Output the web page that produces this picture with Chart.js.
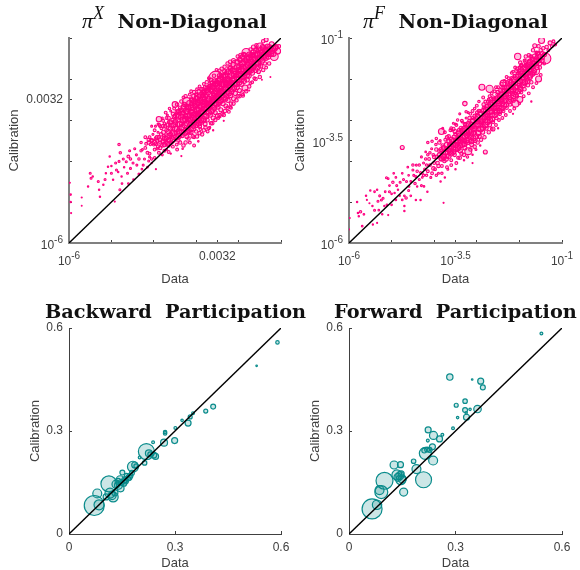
<!DOCTYPE html>
<html>
<head>
<meta charset="utf-8">
<title>Data vs Calibration</title>
<script src="https://cdn.jsdelivr.net/npm/chart.js@4"></script>
<style>
  html, body { margin: 0; padding: 0; background: #fff; }
  #page { position: relative; width: 580px; height: 570px; overflow: hidden; }
  canvas { position: absolute; left: 0; top: 0; }
</style>
</head>
<body>
<div id="page">
  <canvas id="piX" width="580" height="570"></canvas>
  <canvas id="piF" width="580" height="570"></canvas>
  <canvas id="backward" width="580" height="570"></canvas>
  <canvas id="forward" width="580" height="570"></canvas>
</div>
<script>
// tick positions (log10) and their labels
const piXTicks = [-6, -5, -4, -3, -2.5, -2, -1];
const piXTickLabels = ['10^-6', '', '', '', '0.0032', '', ''];
const piFTicks = [-6, -5, -4, -3.5, -3, -2, -1];
const piFTickLabels = ['10^-6', '', '', '10^-3.5', '', '', '10^-1'];
const shareTicks = [0, 0.3, 0.6];
const shareTickLabels = ['0', '0.3', '0.6'];

// [log10 data, log10 calibration, weight]
const piXPoints = [
  [-5.98,-4.53,.3],[-5.96,-4.82,.5],[-5.96,-5,.5],[-5.95,-5.27,.3],[-5.7,-4.89,.3],[-5.7,-5.09,.2],[-5.55,-4.62,.5],[-5.5,-4.3,1],
  [-5.48,-4.42,1],[-5.44,-4.38,.5],[-5.31,-4.5,1],[-5.29,-4.7,.5],[-5.27,-4.87,.5],[-5.19,-4.58,.5],[-5.13,-4.3,.5],[-5.04,-3.89,.5],
  [-5.08,-4.14,.5],[-5,-4.12,.5],[-4.96,-4.46,.5],[-4.88,-4.22,1],[-4.84,-4.27,.5],[-4.92,-4.99,.3],[-4.8,-4.7,1],[-4.82,-3.6,1.5],
  [-4.79,-3.8,1.5],[-4.82,-4.01,1],[-4.76,-4.38,.5],[-4.6,-3.89,2],[-4.57,-3.75,1],[-4.49,-4.05,1],[-4.41,-3.85,1],[-4.7,-4.15,.5],
  [-4.62,-4.3,1],[-4.55,-4.18,1],[-4.48,-4.45,.5],[-4.4,-4.1,1],[-4.35,-4.32,1],[-4.3,-3.55,1.5],[-4.27,-3.72,1],[-4.22,-3.95,1],
  [-4.2,-3.42,2],[-4.15,-4.15,.7],[-4.1,-3.82,2],[-4.08,-3.6,1.5],[-4.05,-3.95,1.5],[-4.02,-3.35,1],[-4,-3.6,2],[-3.96,-3.15,1],
  [-3.95,-3.45,3],[-3.92,-3.7,1.5],[-3.9,-3.3,1],[-3.88,-2.98,7],[-3.85,-3.55,2.5],[-3.82,-3.2,2],[-3.8,-3.62,3],[-3.8,-3.85,1],
  [-3.76,-3.4,3],[-3.75,-3.08,1.5],[-3.72,-3.55,3],[-3.7,-3.25,3],[-3.68,-2.88,1],[-3.66,-3.48,4],[-3.65,-3.62,3],[-3.62,-3.12,2],
  [-3.6,-3.35,4],[-3.6,-2.78,1],[-3.58,-3.55,3],[-3.56,-3,3],[-3.55,-3.2,4],[-3.53,-3.42,5],[-3.5,-2.62,8],[-3.5,-2.9,3],
  [-3.5,-3.1,5],[-3.48,-3.3,4],[-3.46,-3.6,2],[-3.45,-2.8,4],[-3.43,-3,5],[-3.42,-3.5,3],[-3.4,-3.2,4],[-3.38,-2.7,3],
  [-3.36,-2.92,6],[-3.35,-3.1,4],[-3.33,-3.38,4],[-3.32,-3.7,.6],[-3.3,-2.82,4],[-3.28,-3.02,6],[-3.27,-3.25,4],[-3.25,-2.65,3],
  [-3.23,-2.54,14],[-3.22,-2.8,6],[-3.2,-2.98,6],[-3.2,-3.2,4],[-3.18,-3.45,3],[-3.17,-2.7,5],[-3.15,-2.88,6],[-3.13,-3.08,5],
  [-3.12,-3.3,4],[-3.1,-2.6,4],[-3.1,-2.75,6],[-3.08,-2.95,6],[-3.06,-3.15,5],[-3.05,-3.62,2],[-3.04,-2.5,2],[-3.03,-2.65,5],
  [-3.02,-2.85,6],[-3,-3.05,5],[-3,-3.28,3],[-2.98,-2.38,2],[-2.97,-2.58,5],[-2.95,-2.75,6],[-2.94,-2.95,5],[-2.92,-3.15,4],
  [-2.9,-2.48,4],[-2.9,-2.65,6],[-2.88,-2.85,5],[-2.87,-3.05,5],[-2.86,-3.35,3],[-2.84,-2.3,2],[-2.83,-2.55,5],[-2.82,-2.72,6],
  [-2.8,-2.92,6],[-2.79,-3.1,4],[-2.78,-2.42,4],[-2.76,-2.6,6],[-2.75,-2.8,5],[-2.74,-3,4],[-2.73,-3.28,2],[-2.71,-2.2,2],
  [-2.7,-2.48,6],[-2.69,-2.68,6],[-2.67,-2.88,5],[-2.65,-3.08,3],[-2.64,-2.3,4],[-2.63,-2.55,6],[-2.61,-2.75,6],[-2.6,-2.95,4],
  [-2.58,-2.12,3],[-2.57,-2.4,6],[-2.56,-2.6,6],[-2.55,-2.82,4],[-2.53,-1.99,56],[-2.52,-2.25,6],[-2.5,-2.48,6],[-2.49,-2.68,5],
  [-2.48,-2.95,2],[-2.46,-2.1,4],[-2.45,-2.32,6],[-2.44,-2.55,6],[-2.42,-2.75,4],[-2.41,-1.92,4],[-2.4,-2.18,7],[-2.38,-2.4,6],
  [-2.37,-2.6,5],[-2.35,-2.88,3],[-2.34,-2.02,5],[-2.32,-2.25,7],[-2.31,-2.48,6],[-2.3,-2.66,4],[-2.28,-1.85,4],[-2.27,-2.1,7],
  [-2.26,-2.32,6],[-2.25,-2.52,5],[-2.23,-2.8,2],[-2.22,-1.95,6],[-2.2,-2.18,7],[-2.19,-2.4,5],[-2.18,-2.6,3],[-2.16,-1.78,5],
  [-2.15,-2.02,7],[-2.14,-2.25,6],[-2.12,-2.48,4],[-2.1,-1.88,8],[-2.09,-2.12,7],[-2.08,-2.35,5],[-2.07,-1.65,20],[-2.05,-1.95,8],
  [-2.04,-2.2,6],[-2.02,-2.42,3],[-2,-1.78,6],[-2,-2.02,8],[-1.98,-2.28,4],[-1.96,-1.55,4],[-1.95,-1.88,8],[-1.93,-2.12,6],
  [-1.92,-2.36,4],[-1.9,-1.7,6],[-1.89,-1.95,8],[-1.87,-2.05,6],[-1.85,-2.22,9],[-1.84,-1.55,5],[-1.82,-1.36,18],[-1.81,-1.8,8],
  [-1.8,-2.02,5],[-1.78,-1.65,7],[-1.76,-1.92,6],[-1.75,-1.48,8],[-1.73,-1.75,8],[-1.72,-2.1,2],[-1.7,-1.58,7],[-1.68,-1.85,6],
  [-1.66,-1.42,6],[-1.65,-1.68,8],[-1.63,-1.98,2],[-1.62,-1.52,7],[-1.6,-1.78,6],[-1.59,-1.66,25],[-1.57,-1.4,7],[-1.55,-1.6,7],
  [-1.53,-1.82,4],[-1.51,-1.48,8],[-1.49,-1.22,16],[-1.48,-1.68,5],[-1.46,-1.35,7],[-1.44,-1.55,6],[-1.42,-1.25,6],[-1.4,-1.45,8],
  [-1.38,-1.62,3],[-1.35,-1.04,4],[-1.34,-1.32,8],[-1.32,-1.2,5],[-1.3,-1.46,6],[-1.27,-1.28,8],[-1.24,-1.38,9],[-1.22,-1.15,6],
  [-1.19,-1.25,7],[-1.16,-1.45,16],[-1.12,-1.22,6],[-1.08,-1.32,9],[-1.05,-1.2,3],[-3.65,-3.05,2],[-3.4,-3.42,2],[-3.15,-3.32,2],
  [-2.9,-3.22,2],[-2.68,-3.18,1],[-2.44,-2.92,1],[-2.2,-2.68,2],[-1.75,-2.28,.3],[-1.45,-2.02,.2],[-1.25,-1.95,.2],[-3.6,-3.82,.4],
  [-3.35,-3.88,.3],[-3.3,-3.62,3],[-3.05,-3.42,2],[-2.95,-3.52,.6],[-2.6,-3.25,.4],[-2.35,-3.02,.3],[-4.05,-4.05,.4],[-3.95,-4.2,.3],
  [-3.7,-3.72,1],[-2.5,-2.1,6],[-2.65,-2.18,5],[-2.75,-2.28,5],[-2.85,-2.4,4],[-3,-2.45,4],[-3.12,-2.48,3],[-2.7,-2.6,6],
  [-2.6,-2.45,6],[-2.45,-2.45,6],[-2.3,-2.1,6],[-2.15,-2.1,6],[-2.4,-2.3,6],[-2.55,-2.3,6],[-2.8,-2.55,6],[-2.95,-2.85,5],
  [-3.1,-2.9,5],[-3.25,-2.9,5],[-3.35,-2.75,4],[-2.25,-2.0,6],[-2.0,-1.9,7],[-1.85,-1.85,7],[-1.7,-1.7,7],[-1.55,-1.5,7],
  [-1.4,-1.38,7],[-1.3,-1.35,7],
  [-3.75,-3.6,5],[-3.74,-3.45,6],[-3.77,-3.3,4],[-3.73,-3.15,3],[-3.68,-3.58,5],[-3.69,-3.42,6],[-3.66,-3.28,5],[-3.67,-3.12,4],
  [-3.62,-3.5,6],[-3.63,-3.38,6],[-3.61,-3.22,5],[-3.6,-3.05,4],[-3.55,-3.48,7],[-3.56,-3.33,7],[-3.54,-3.12,6],[-3.52,-2.92,4],
  [-3.47,-3.42,7],[-3.46,-3.22,7],[-3.49,-3.05,6],[-3.45,-2.88,5],[-3.4,-3.38,7],[-3.41,-3.28,7],[-3.39,-3.1,7],[-3.42,-2.92,6],
  [-3.38,-2.78,5],[-3.33,-3.3,7],[-3.34,-3.18,8],[-3.31,-3,8],[-3.32,-2.85,6],[-3.3,-2.68,5],[-3.26,-3.32,6],[-3.27,-3.12,8],
  [-3.25,-2.98,8],[-3.24,-2.78,7],[-3.28,-2.62,5],[-3.2,-3.28,6],[-3.21,-3.08,8],[-3.18,-2.9,8],[-3.19,-2.72,8],[-3.17,-2.58,5],
  [-3.13,-3.22,7],[-3.14,-3,8],[-3.11,-2.82,9],[-3.12,-2.68,8],[-3.1,-2.52,5],[-3.07,-3.2,7],[-3.06,-3.05,8],[-3.05,-2.88,9],
  [-3.08,-2.7,8],[-3.04,-2.55,7],[-3.06,-2.42,4],[-3,-3.12,7],[-3.01,-2.95,9],[-2.99,-2.78,9],[-3.02,-2.62,8],[-2.98,-2.48,6],
  [-3,-2.38,3],[-2.94,-3.08,7],[-2.95,-2.9,9],[-2.93,-2.72,9],[-2.96,-2.58,8],[-2.92,-2.42,6],[-2.94,-2.3,3],[-2.88,-3,7],
  [-2.89,-2.82,9],[-2.87,-2.68,9],[-2.9,-2.52,8],[-2.86,-2.38,6],[-2.85,-2.25,3],[-2.82,-2.98,7],[-2.83,-2.8,9],[-2.81,-2.62,9],
  [-2.84,-2.45,8],[-2.8,-2.32,6],[-2.79,-2.2,3],[-2.76,-2.9,7],[-2.77,-2.72,9],[-2.75,-2.55,9],[-2.78,-2.38,8],[-2.74,-2.22,5],
  [-2.7,-2.82,7],[-2.71,-2.65,9],[-2.69,-2.5,9],[-2.72,-2.32,8],[-2.68,-2.18,5],[-2.64,-2.78,7],[-2.65,-2.6,9],[-2.63,-2.42,9],
  [-2.66,-2.25,8],[-2.62,-2.1,5],[-2.58,-2.7,7],[-2.59,-2.52,9],[-2.57,-2.35,9],[-2.6,-2.18,8],[-2.56,-2.05,5],[-2.52,-2.62,7],
  [-2.53,-2.45,9],[-2.51,-2.3,9],[-2.54,-2.12,8],[-2.47,-2.58,7],[-2.48,-2.4,9],[-2.46,-2.22,9],[-2.49,-2.05,8],[-2.45,-1.92,5],
  [-2.41,-2.52,7],[-2.42,-2.35,9],[-2.4,-2.12,9],[-2.43,-2,8],[-2.35,-2.45,7],[-2.36,-2.28,9],[-2.34,-2.12,9],[-2.37,-1.95,8],
  [-2.33,-1.82,4],[-2.29,-2.4,7],[-2.3,-2.2,9],[-2.28,-2.02,9],[-2.31,-1.9,7],[-2.23,-2.35,7],[-2.24,-2.15,9],[-2.22,-2.05,9],
  [-2.25,-1.82,7],[-2.21,-1.72,4],[-2.17,-2.3,7],[-2.18,-2.1,9],[-2.16,-1.92,9],[-2.19,-1.75,6],[-2.11,-2.22,7],[-2.12,-2.02,9],
  [-2.1,-1.8,8],[-2.13,-1.65,5],[-2.05,-2.12,8],[-2.06,-1.88,9],[-2.04,-1.72,8],[-2.03,-1.58,5],[-1.99,-2.08,8],[-2,-1.88,9],
  [-1.98,-1.7,8],[-1.97,-1.52,5],[-1.93,-2,8],[-1.94,-1.8,9],[-1.92,-1.62,8],[-1.91,-1.46,5],[-1.87,-1.92,8],[-1.88,-1.75,9],
  [-1.86,-1.58,8],[-1.85,-1.42,5],[-1.81,-1.9,8],[-1.82,-1.7,9],[-1.8,-1.52,8],[-1.76,-1.82,8],[-1.77,-1.6,9],[-1.75,-1.4,6],
  [-1.71,-1.78,8],[-1.72,-1.55,9],[-1.7,-1.42,7],[-1.66,-1.72,8],[-1.67,-1.52,9],[-1.65,-1.35,6],[-1.6,-1.62,8],[-1.61,-1.42,8],
  [-1.59,-1.3,6],[-1.54,-1.62,8],[-1.55,-1.4,8],[-1.53,-1.28,6],[-1.48,-1.5,9],[-1.47,-1.3,8],[-1.42,-1.42,9],[-1.43,-1.22,6],
  [-1.36,-1.48,7],[-1.37,-1.3,8],[-1.3,-1.38,8],[-1.28,-1.22,6],[-1.22,-1.32,8],[-1.18,-1.38,8],[-1.15,-1.25,8],
  [-4.2,-3.68,2],[-4.12,-3.55,3],[-4.15,-3.8,2],[-4.05,-3.5,2],[-4.1,-3.42,2],[-3.98,-3.72,2],[-3.95,-3.58,3],[-3.9,-3.65,3],
  [-3.85,-3.68,3],[-3.92,-3.5,3],[-3.88,-3.42,3],[-3.83,-3.35,3],[-3.85,-3.15,2],[-3.9,-3.1,1],[-3.78,-3.02,2],[-3.7,-2.95,2],
  [-4.05,-3.15,1],[-3.98,-3.25,2],[-3.87,-3.12,2],[-3.8,-2.95,1],[-3.78,-3.15,3],[-3.72,-2.82,2],[-3.65,-2.95,3],[-3.63,-2.72,1.5],
  [-3.55,-2.85,3],[-3.52,-2.72,2],[-3.45,-2.62,3],[-3.42,-2.78,4],[-3.35,-2.55,3],[-3.3,-2.45,2],[-3.25,-2.42,3],[-3.15,-2.38,2],
  [-3.12,-2.3,2],[-3.05,-2.32,3],[-2.98,-2.25,2],[-2.92,-2.18,2],[-2.88,-2.25,3],[-2.82,-2.12,2],[-2.75,-2.08,3],[-2.7,-1.98,2],
  [-2.65,-2.02,3],[-2.58,-1.92,3],[-2.52,-1.78,2],[-2.45,-1.8,3],[-2.4,-1.75,3],[-2.33,-1.7,3],[-2.26,-1.62,3],[-2.2,-1.58,3],
  [-2.12,-1.55,4],[-2.02,-1.45,3],[-1.95,-1.42,4],[-1.88,-1.4,4],[-1.72,-1.28,3],[-1.65,-1.22,4],[-1.58,-1.18,3],[-1.42,-1.08,3],
  [-4.1,-3.9,1],[-3.98,-3.92,1.5],[-3.88,-3.8,2],[-3.75,-3.75,2],[-3.65,-3.78,2],[-3.55,-3.65,2],[-3.45,-3.72,2],[-3.38,-3.55,3],
  [-3.25,-3.55,3],[-3.22,-3.4,4],[-3.15,-3.55,2],[-3.08,-3.4,3],[-2.98,-3.4,3],[-2.92,-3.32,3],[-2.82,-3.25,3],[-2.78,-3.18,3],
  [-2.7,-3.2,2],[-2.62,-3.08,3],[-2.55,-3,3],[-2.5,-2.9,4],[-2.45,-2.88,3],[-2.38,-2.85,3],[-2.32,-2.78,3],[-2.26,-2.7,3],
  [-2.18,-2.7,2],[-2.12,-2.6,3],[-2.05,-2.52,3],[-1.98,-2.42,3],[-1.9,-2.4,3],[-1.82,-2.3,3],[-1.75,-2.18,3],[-1.68,-2.08,2],
  [-1.6,-2,3],[-1.5,-1.95,3],[-1.42,-1.78,3],[-1.35,-1.72,2],[-1.28,-1.62,3],
  [-4.12,-3.48,3],[-4.05,-3.5,4],[-3.98,-3.55,4],[-3.92,-3.42,4],[-3.85,-3.48,4],[-3.78,-3.52,5],[-4.55,-3.95,1.5],[-4.45,-3.7,1],
  [-4.35,-3.95,1.5],[-4.25,-4.1,1],[-4.18,-3.58,2],[-4.3,-3.75,1.5],[-4.12,-4,1],[-4.65,-4.02,1],[-4.72,-3.95,1],[-4.9,-4.05,1],
  [-5,-4.3,1],[-5.15,-4.45,1],[-4.75,-4.55,.7],[-4.6,-4.55,.7],[-4.28,-4.2,.7]
];
const piFPoints = [
  [-6,-5.67,.3],[-5.98,-5.39,.2],[-5.81,-5,.5],[-5.79,-5.27,.5],[-5.73,-5.24,1.5],[-5.77,-5.35,.5],[-5.69,-5.59,.7],[-5.58,-4.95,.3],
  [-5.52,-5.03,.3],[-5.44,-5.55,.4],[-5.34,-5.51,.3],[-5.34,-4.7,.5],[-5.32,-4.98,1],[-5.28,-4.85,1],[-5.24,-4.95,1],[-5.2,-4.91,1],
  [-5.12,-4.41,1],[-5.08,-4.43,.7],[-4.97,-4.52,1.5],[-4.93,-4.78,.5],[-4.85,-4.7,.5],[-4.81,-4.85,.5],[-4.7,-4.85,.7],[-4.7,-5.1,.5],
  [-4.66,-4.9,1.5],[-4.7,-5.22,.5],[-5.11,-5.07,.7],[-5.17,-5.1,.5],[-5,-5.07,.7],[-5.08,-5.32,.3],[-4.75,-4.3,.7],[-4.75,-3.67,4],
  [-4.59,-4.62,.7],[-4.55,-4.5,.7],[-4.43,-4.38,1],[-4.43,-4.95,.5],[-4.32,-4.95,.5],[-4.24,-4.62,.7],[-4.16,-4.75,.5],[-4.35,-4.45,1],
  [-4.62,-4.15,.7],[-4.5,-4.22,1],[-4.42,-4.1,1],[-4.32,-4.28,1],[-4.3,-3.9,1],[-4.25,-4.05,1],[-4.22,-4.2,1.5],[-4.2,-3.78,.7],
  [-4.15,-4.25,2],[-4.12,-3.95,2],[-4.1,-4.1,2],[-4.06,-3.7,1],[-4.05,-4.3,2],[-4.02,-3.85,2],[-4,-4.05,2],[-3.98,-4.2,2],
  [-3.96,-3.6,1.5],[-3.94,-3.9,3],[-3.92,-4.05,3],[-3.9,-4.3,1],[-3.88,-3.75,3],[-3.86,-3.5,1],[-3.85,-3.95,3],[-3.83,-3.28,9],
  [-3.82,-4.12,2],[-3.8,-3.62,3],[-3.78,-3.8,4],[-3.76,-4,3],[-3.74,-3.48,2],[-3.72,-3.7,4],[-3.7,-3.88,4],[-3.68,-4.2,1],
  [-3.66,-3.4,3],[-3.64,-3.6,4],[-3.62,-3.78,5],[-3.6,-3.98,2],[-3.58,-3.25,1],[-3.56,-3.5,4],[-3.54,-3.68,5],[-3.52,-3.85,3],
  [-3.5,-3.1,1],[-3.5,-3.35,3],[-3.48,-3.55,5],[-3.46,-3.72,4],[-3.44,-3.92,2],[-3.42,-3.25,3],[-3.4,-3.45,5],[-3.38,-3.62,5],
  [-3.36,-3.82,3],[-3.34,-3.05,1],[-3.32,-3.32,4],[-3.3,-3.5,5],[-3.28,-2.6,5],[-3.28,-3.68,4],[-3.26,-3.18,3],[-3.24,-3.38,5],
  [-3.22,-3.55,5],[-3.2,-3.76,12],[-3.18,-3.02,2],[-3.16,-3.25,4],[-3.14,-3.42,5],[-3.12,-3.6,4],[-3.1,-2.95,2],[-3.08,-3.15,4],
  [-3.06,-3.32,5],[-3.04,-3.5,4],[-3.02,-3.72,1],[-3,-2.88,2],[-2.98,-3.05,4],[-2.96,-3.22,5],[-2.94,-3.4,4],[-2.92,-2.78,2],
  [-2.9,-2.95,4],[-2.88,-2.2,9],[-2.88,-3.12,5],[-2.86,-3.3,4],[-2.84,-2.7,2],[-2.82,-2.85,4],[-2.8,-3.02,5],[-2.8,-3.78,4],
  [-2.78,-3.2,4],[-2.76,-2.65,3],[-2.74,-2.8,4],[-2.72,-2.95,5],[-2.7,-2.24,13],[-2.7,-3.12,4],[-2.68,-2.55,3],[-2.66,-2.72,5],
  [-2.64,-2.88,5],[-2.62,-3.22,4],[-2.62,-3.05,3],[-2.6,-2.48,3],[-2.58,-2.62,5],[-2.56,-2.78,5],[-2.54,-2.95,3],[-2.52,-2.38,2],
  [-2.5,-2.55,5],[-2.48,-2.7,5],[-2.46,-2.85,3],[-2.44,-2.28,4],[-2.42,-2.45,5],[-2.4,-2.6,5],[-2.38,-2.1,9],[-2.38,-2.78,3],
  [-2.36,-2.2,4],[-2.34,-2.38,5],[-2.32,-2.52,5],[-2.3,-2.7,3],[-2.28,-2.12,4],[-2.26,-2.28,5],[-2.24,-2.45,5],[-2.22,-2.62,3],
  [-2.2,-2.05,3],[-2.18,-2.2,5],[-2.16,-2.35,5],[-2.14,-2.52,4],[-2.12,-1.92,2],[-2.1,-2.1,5],[-2.09,-2.6,12],[-2.08,-2.28,5],
  [-2.06,-2.42,3],[-2.04,-1.45,10],[-2.02,-1.85,3],[-2,-2,5],[-1.99,-2.5,9],[-1.98,-2.2,5],[-1.96,-2.32,3],[-1.94,-1.78,4],
  [-1.92,-1.92,5],[-1.9,-2.1,5],[-1.88,-2.25,3],[-1.86,-1.68,3],[-1.84,-1.85,5],[-1.82,-2,5],[-1.8,-2.15,3],[-1.78,-1.6,4],
  [-1.76,-1.78,5],[-1.74,-1.92,5],[-1.72,-2.08,3],[-1.7,-1.52,3],[-1.68,-1.7,5],[-1.66,-1.85,5],[-1.64,-1.19,4],[-1.62,-1.8,16],
  [-1.6,-1.62,5],[-1.58,-1.45,3],[-1.56,-1.38,3],[-1.55,-2,9],[-1.54,-1.55,5],[-1.52,-1.72,3],[-1.5,-1.3,3],[-1.48,-1.06,9],
  [-1.46,-1.48,4],[-1.44,-1.25,3],[-1.42,-1.62,2],[-1.39,-1.5,30],[-1.36,-1.22,3],[-1.32,-1.3,2],[-1.28,-1.12,4],[-1.24,-1.2,2],
  [-1.2,-1.08,2],[-1.16,-1.16,2],[-5.3,-5.2,.7],[-5.22,-5.3,.5],[-5.4,-5.2,1],[-4.9,-4.4,.7],[-4.8,-4.52,1],[-4.6,-4.35,.7],
  [-4.28,-4.4,.7],[-4.4,-4.62,.5],[-3.85,-4.5,.5],[-3.75,-4.4,.5],[-3.5,-4.2,.5],[-3.3,-3.98,.5],[-3.1,-3.85,.5],[-3.1,-4.05,.3],
  [-2.92,-3.62,.5],[-2.5,-3.2,.4],[-2.15,-2.85,.3],[-1.72,-2.55,.4],[-3.78,-5.02,.3],[-3.8,-3.2,1],[-3.6,-3.2,2],[-3.4,-2.85,1],
  [-3.2,-2.82,1],[-3.05,-2.72,1.5],[-2.85,-2.45,2],[-2.7,-2.42,2],[-2.55,-2.2,2],[-2.42,-2.12,3],[-2.25,-1.98,2],[-2.15,-1.82,2],
  [-2,-1.72,2],[-1.88,-1.55,2],[-1.72,-1.45,2],[-1.6,-1.35,2],[-3.55,-3.08,1],[-3.25,-2.95,1],[-1.95,-1.65,2],[-1.8,-1.72,3],
  [-1.7,-1.65,4],[-1.6,-1.48,3],[-2.3,-2.3,5],[-2.45,-2.5,5],[-2.6,-2.7,5],[-2.75,-2.9,5],[-2.9,-3.05,5],[-3.05,-3.2,5],
  [-3.2,-3.35,5],[-3.35,-3.48,5],[-3.5,-3.62,5],[-3.65,-3.75,4],[-3.8,-3.92,3],[-2.15,-2.15,5],[-2,-2.15,4],[-1.85,-1.95,4],
  [-4.02,-4.18,3],[-4,-3.9,3],[-3.95,-3.72,3],[-3.9,-4.12,3],[-3.88,-3.85,4],[-3.82,-3.95,5],[-3.84,-3.72,4],[-3.77,-3.9,5],
  [-3.78,-3.68,5],[-3.72,-3.95,5],[-3.73,-3.78,6],[-3.71,-3.6,5],[-3.66,-3.88,6],[-3.67,-3.72,6],[-3.65,-3.52,5],[-3.6,-3.82,6],
  [-3.61,-3.65,7],[-3.59,-3.48,6],[-3.55,-3.78,6],[-3.56,-3.6,7],[-3.53,-3.42,5],[-3.5,-3.72,6],[-3.49,-3.5,7],[-3.51,-3.28,4],
  [-3.44,-3.68,7],[-3.45,-3.5,7],[-3.43,-3.32,5],[-3.39,-3.75,5],[-3.38,-3.55,7],[-3.4,-3.38,7],[-3.37,-3.2,4],[-3.34,-3.6,7],
  [-3.33,-3.42,8],[-3.35,-3.25,5],[-3.29,-3.58,7],[-3.27,-3.4,8],[-3.3,-3.22,6],[-3.28,-3.1,3],[-3.24,-3.5,7],[-3.23,-3.3,8],
  [-3.25,-3.12,5],[-3.19,-3.48,8],[-3.18,-3.28,8],[-3.2,-3.1,6],[-3.17,-2.95,3],[-3.13,-3.52,6],[-3.14,-3.3,8],[-3.12,-3.12,7],
  [-3.1,-3.02,4],[-3.08,-3.45,7],[-3.07,-3.22,8],[-3.09,-3.02,6],[-3.05,-2.9,3],[-3.02,-3.4,7],[-3.03,-3.15,8],[-3.01,-2.98,6],
  [-2.99,-2.82,3],[-2.97,-3.32,7],[-2.96,-3.1,8],[-2.98,-2.92,7],[-2.95,-2.78,3],[-2.91,-3.22,8],[-2.92,-3.02,8],[-2.9,-2.85,6],
  [-2.86,-3.18,8],[-2.87,-2.98,8],[-2.85,-2.78,6],[-2.84,-2.62,3],[-2.8,-3.12,8],[-2.81,-2.92,8],[-2.79,-2.75,7],[-2.75,-3.05,7],
  [-2.76,-2.85,8],[-2.74,-2.68,7],[-2.73,-2.55,3],[-2.69,-3,7],[-2.7,-2.8,8],[-2.68,-2.62,7],[-2.64,-2.98,7],[-2.65,-2.78,8],
  [-2.63,-2.58,7],[-2.62,-2.45,3],[-2.58,-2.88,7],[-2.59,-2.7,8],[-2.57,-2.52,7],[-2.53,-2.82,7],[-2.54,-2.65,8],[-2.52,-2.48,7],
  [-2.51,-2.32,3],[-2.47,-2.78,7],[-2.48,-2.58,8],[-2.46,-2.42,7],[-2.42,-2.72,7],[-2.43,-2.52,8],[-2.41,-2.35,7],[-2.4,-2.22,3],
  [-2.36,-2.65,7],[-2.37,-2.45,8],[-2.35,-2.3,6],[-2.31,-2.62,6],[-2.32,-2.4,8],[-2.3,-2.22,6],[-2.29,-2.08,3],[-2.25,-2.55,6],
  [-2.26,-2.35,8],[-2.24,-2.18,7],[-2.2,-2.5,6],[-2.21,-2.28,8],[-2.19,-2.1,7],[-2.18,-1.98,3],[-2.14,-2.42,7],[-2.15,-2.25,8],
  [-2.13,-2.02,7],[-2.09,-2.38,7],[-2.1,-2.2,8],[-2.08,-1.95,7],[-2.07,-1.8,3],[-2.03,-2.3,7],[-2.04,-2.1,8],[-2.02,-1.9,7],
  [-1.98,-2.25,6],[-1.99,-2.05,8],[-1.97,-1.82,7],[-1.96,-1.68,3],[-1.92,-2.15,7],[-1.93,-1.95,8],[-1.91,-1.75,7],[-1.87,-2.08,7],
  [-1.88,-1.88,8],[-1.86,-1.72,7],[-1.85,-1.58,4],[-1.81,-2.05,6],[-1.82,-1.85,8],[-1.8,-1.65,7],[-1.76,-1.95,7],[-1.77,-1.75,8],
  [-1.75,-1.58,7],[-1.74,-1.45,3],[-1.7,-1.88,6],[-1.71,-1.7,8],[-1.69,-1.52,6],[-1.65,-1.8,5],[-1.66,-1.62,7],[-1.64,-1.45,6],
  [-1.59,-1.72,5],[-1.6,-1.55,6],[-1.58,-1.38,5],[-1.53,-1.62,5],[-1.52,-1.45,5],[-1.47,-1.55,5],[-1.46,-1.38,4],[-1.41,-1.4,4],
  [-4.15,-3.55,1.5],[-4.05,-3.52,1.5],[-3.95,-3.45,1.5],[-3.88,-3.55,3],[-3.75,-3.3,2],[-3.7,-3.42,3],[-3.62,-3.25,2],[-3.55,-3.22,3],
  [-3.48,-3.12,2],[-3.45,-3,1.5],[-3.35,-3.02,2],[-3.25,-2.8,1.5],[-3.15,-2.85,2],[-3.1,-2.78,2],[-3,-2.65,2],[-2.95,-2.55,1.5],
  [-2.8,-2.55,2],[-2.72,-2.5,2],[-2.65,-2.35,2],[-2.58,-2.3,2],[-2.5,-2.2,2],[-2.35,-2.05,2],[-2.3,-1.95,2],[-2.18,-1.85,2],
  [-2.1,-1.72,2],[-2.05,-1.75,3],[-1.98,-1.6,3],[-1.85,-1.45,3],[-1.78,-1.42,3],[-1.68,-1.3,3],[-1.55,-1.2,3],
  [-4.28,-4.3,1],[-4.18,-4.35,1.5],[-4.08,-4.4,1],[-3.95,-4.35,1.5],[-3.82,-4.3,1.5],[-3.7,-4.15,2],[-3.6,-4.1,2],[-3.48,-4.05,2],
  [-3.4,-3.92,3],[-3.3,-3.85,3],[-3.22,-3.9,1.5],[-3.15,-3.72,3],[-3.05,-3.65,3],[-2.98,-3.55,3],[-2.9,-3.48,3],[-2.82,-3.42,3],
  [-2.72,-3.3,3],[-2.65,-3.22,2],[-2.55,-3.12,2],[-2.48,-3,2],[-2.4,-2.95,2],[-2.32,-2.88,2],[-2.22,-2.78,2],[-2.12,-2.72,2],
  [-2,-2.6,1.5],[-1.9,-2.42,2],[-1.78,-2.35,2],[-1.68,-2.2,2],[-1.6,-2.1,2],[-1.5,-1.9,2],
  [-5.05,-4.75,1],[-5,-4.8,.7],[-4.9,-4.95,.7],[-4.88,-4.6,1],[-4.75,-4.95,.7],[-4.72,-4.45,1],[-4.65,-4.5,1],[-4.6,-4.72,1],
  [-4.55,-4.85,.7],[-4.5,-4.1,1.5],[-4.48,-4.35,1],[-4.45,-4.55,1.5],[-4.4,-4.25,1.5],[-4.35,-4.1,1.5],[-4.3,-4.6,1],[-4.25,-4.35,1.5],
  [-4.2,-3.95,1.5],[-4.18,-4.1,1.5],[-4.15,-3.85,1.5],[-4.1,-3.8,1.5],[-5.4,-4.75,.7],[-5.45,-5.1,.5],[-5.5,-4.72,.5],[-5.6,-4.85,.5],
  [-5.65,-5.3,.7],[-5.15,-4.75,.7],[-5.05,-4.6,.7],[-4.95,-4.3,.7]
];
// [data, calibration, weight]
const backwardPoints = [
  [.0715,.083,100],[.08,.118,20],[.085,.085,25],[.113,.146,64],[.116,.119,25],[.125,.108,25],[.105,.108,9],[.133,.145,16],
  [.146,.133,12],[.139,.153,9],[.151,.179,6],[.158,.158,9],[.148,.15,9],[.167,.162,6],[.163,.17,5],[.174,.17,6],
  [.181,.196,30],[.186,.201,9],[.19,.198,5],[.2,.223,2],[.214,.207,5],[.219,.24,64],[.226,.235,12],[.24,.23,9],
  [.245,.226,9],[.238,.267,2],[.269,.266,12],[.272,.297,3],[.272,.293,3],[.299,.272,9],[.301,.309,2],[.32,.331,1.5],
  [.337,.323,9],[.343,.341,4],[.351,.352,2],[.387,.358,4],[.408,.371,6],[.531,.49,.6],[.59,.558,3],
  [.14,.142,16],[.155,.148,9],[.16,.155,9],[.17,.165,9],[.178,.178,6],[.145,.158,16],[.122,.112,16],[.13,.12,9],[.23,.232,6]
];
const forwardPoints = [
  [.065,.073,100],[.079,.085,22],[.1,.155,72],[.091,.122,42],[.086,.128,20],[.154,.122,16],[.146,.158,25],[.135,.172,25],
  [.143,.17,16],[.127,.201,16],[.145,.202,9],[.182,.212,5],[.19,.189,20],[.21,.158,64],[.237,.214,20],[.215,.235,36],
  [.212,.243,6],[.22,.246,6],[.227,.245,6],[.235,.254,9],[.223,.303,9],[.238,.287,16],[.255,.277,9],[.263,.289,2],
  [.222,.272,2],[.293,.308,2],[.284,.457,10],[.302,.375,4],[.306,.339,1.5],[.327,.387,5],[.327,.361,6],[.33,.353,1.5],
  [.331,.34,9],[.341,.363,1.5],[.362,.364,14],[.347,.45,.6],[.371,.445,9],[.377,.427,6],[.542,.584,2],
  [.138,.165,16],[.147,.175,9],[.15,.16,16]
];

const PINK = '#ff0080';
const TEAL = '#0a8c8c';
const GREY = '#404040';

// titles and power-of-ten labels need mixed fonts, so they are drawn here
const panelText = {
  id: 'panelText',
  afterDraw(chart, args, opts) {
    const ctx = chart.ctx;
    ctx.save();
    ctx.fillStyle = '#111';
    ctx.textBaseline = 'alphabetic';
    ctx.textAlign = 'left';
    let x = opts.titleX;
    opts.title.forEach(part => {
      ctx.font = part.font;
      x += part.gap || 0;
      ctx.fillText(part.text, x, opts.titleY - (part.rise || 0));
      x += ctx.measureText(part.text).width;
    });
    ctx.fillStyle = GREY;
    if (opts.powers) {
      const area = chart.chartArea, xs = chart.scales.x, ys = chart.scales.y;
      opts.ticks.forEach((t, i) => {
        const m = /^10\^(.*)$/.exec(opts.labels[i]);
        if (!m) return;
        drawPower(ctx, m[1], xs.getPixelForValue(10 ** t), area.bottom + 22, 'center');
        drawPower(ctx, m[1], area.left - 6, ys.getPixelForValue(10 ** t) + 6, 'right');
      });
    }
    ctx.restore();
  }
};

function drawPower(ctx, exp, x, y, align) {
  ctx.font = '12px "Liberation Sans"';
  const baseW = ctx.measureText('10').width;
  ctx.font = '10px "Liberation Sans"';
  const expW = ctx.measureText(exp).width;
  const left = align === 'center' ? x - (baseW + expW) / 2 : x - baseW - expW;
  ctx.font = '12px "Liberation Sans"';
  ctx.fillText('10', left, y);
  ctx.font = '10px "Liberation Sans"';
  ctx.fillText(exp, left + baseW, y - 6);
}

function scaleOptions(kind, title, ticks, labels, size, lineColor, lineWidth) {
  const isLog = kind === 'logarithmic';
  const values = isLog ? ticks.map(t => 10 ** t) : ticks;
  return {
    type: kind,
    min: isLog ? 1e-6 : 0,
    max: isLog ? 0.1 : 0.6,
    afterBuildTicks: scale => { scale.ticks = values.map(v => ({ value: v })); },
    afterFit: scale => {
      if (scale.isHorizontal()) scale.height = size; else scale.width = size;
    },
    border: { display: true, color: lineColor, width: lineWidth },
    grid: { drawOnChartArea: false, drawTicks: true, tickLength: -3, color: GREY, lineWidth: 1 },
    ticks: {
      autoSkip: false, maxRotation: 0, padding: 9, color: GREY,
      font: { family: 'Liberation Sans', size: 12 },
      callback: (v, i) => (labels[i] && !labels[i].startsWith('10^') ? labels[i] : '')
    },
    title: {
      display: true, text: title, color: GREY, padding: 0,
      font: { family: 'Liberation Sans', size: 13 }
    }
  };
}

function drawPanel(id, p) {
  const isLog = p.kind === 'logarithmic';
  const tf = isLog ? v => 10 ** v : v => v;
  const ends = isLog ? [1e-6, 0.1] : [0, 0.6];
  new Chart(document.getElementById(id), {
    data: {
      datasets: [
        {
          type: 'line',
          data: ends.map(v => ({ x: v, y: v })),
          borderColor: '#000', borderWidth: 1.4, pointRadius: 0, order: 0
        },
        {
          type: 'bubble',
          data: p.points.map(d => ({ x: tf(d[0]), y: tf(d[1]), r: Math.sqrt(d[2]) })),
          backgroundColor: p.fill, borderColor: p.color, borderWidth: p.edge, order: 1
        }
      ]
    },
    options: {
      responsive: false,
      animation: false,
      events: [],
      layout: {
        padding: { left: p.labelX, top: p.top, right: 580 - p.right, bottom: 570 - p.bottom - p.xSize }
      },
      scales: {
        x: scaleOptions(p.kind, 'Data', p.ticks, p.labels, p.xSize, p.axisColor, p.axisWidth),
        y: scaleOptions(p.kind, 'Calibration', p.ticks, p.labels, p.left - p.labelX, p.axisColor, p.axisWidth)
      },
      plugins: {
        legend: { display: false },
        tooltip: { enabled: false },
        panelText: {
          title: p.title, titleX: p.titleX, titleY: p.titleY,
          powers: isLog, ticks: p.ticks, labels: p.labels
        }
      }
    },
    plugins: [panelText]
  });
}

const TITLE_FONT = 'bold 19.3px "DejaVu Serif"';
const piTitle = letter => [
  { text: 'π', font: 'italic 22px "Liberation Serif"' },
  { text: letter, font: 'italic 18px "Liberation Serif"', rise: 9 },
  { text: 'Non-Diagonal', font: TITLE_FONT, gap: 13.5 }
];

drawPanel('piX', {
  kind: 'logarithmic', points: piXPoints, ticks: piXTicks, labels: piXTickLabels,
  color: PINK, fill: 'rgba(255,0,128,0.25)', edge: 1.1, axisColor: '#808080', axisWidth: 2,
  labelX: 7, left: 69, right: 281, top: 38, bottom: 243, xSize: 44,
  title: piTitle('X'), titleX: 82, titleY: 28
});
drawPanel('piF', {
  kind: 'logarithmic', points: piFPoints, ticks: piFTicks, labels: piFTickLabels,
  color: PINK, fill: 'rgba(255,0,128,0.25)', edge: 1.1, axisColor: '#808080', axisWidth: 2,
  labelX: 293, left: 349, right: 562, top: 38, bottom: 243, xSize: 44,
  title: piTitle('F'), titleX: 363, titleY: 28
});
drawPanel('backward', {
  kind: 'linear', points: backwardPoints, ticks: shareTicks, labels: shareTickLabels,
  color: TEAL, fill: 'rgba(0,128,128,0.2)', edge: 1.2, axisColor: GREY, axisWidth: 1,
  labelX: 28, left: 69, right: 281, top: 328, bottom: 534, xSize: 37,
  title: [{ text: 'Backward  Participation', font: TITLE_FONT }], titleX: 45, titleY: 318
});
drawPanel('forward', {
  kind: 'linear', points: forwardPoints, ticks: shareTicks, labels: shareTickLabels,
  color: TEAL, fill: 'rgba(0,128,128,0.2)', edge: 1.2, axisColor: GREY, axisWidth: 1,
  labelX: 308, left: 349, right: 562, top: 328, bottom: 534, xSize: 37,
  title: [{ text: 'Forward  Participation', font: TITLE_FONT }], titleX: 334, titleY: 318
});
</script>
</body>
</html>
